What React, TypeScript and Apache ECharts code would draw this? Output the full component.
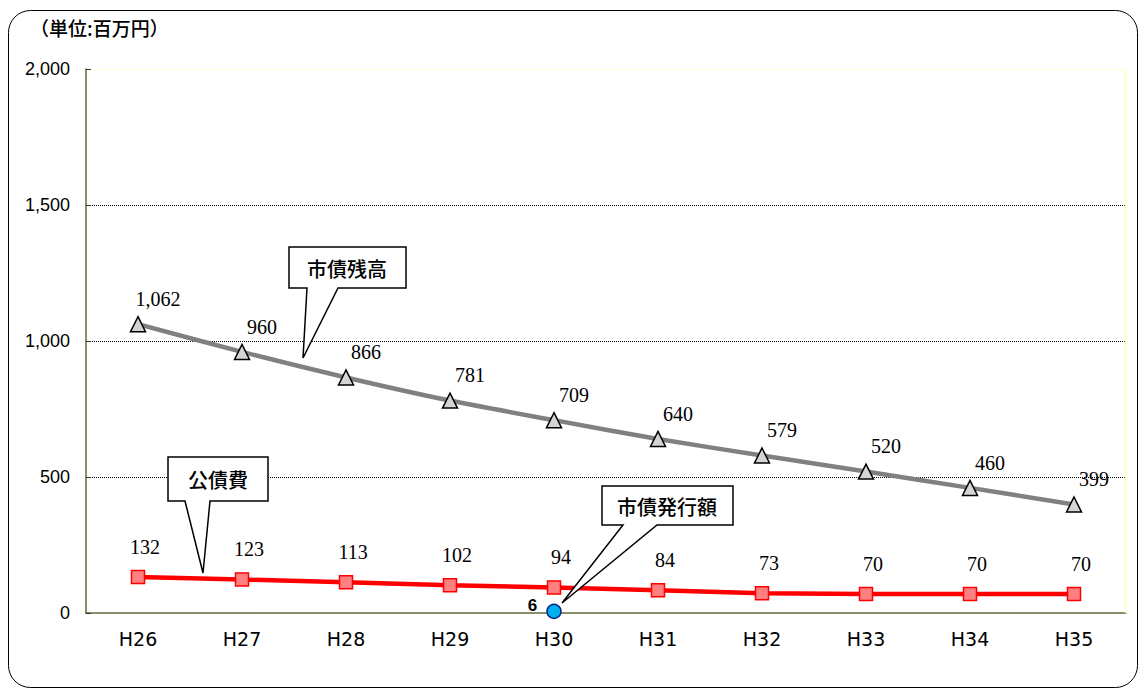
import React, { useEffect, useRef } from "react";
import * as echarts from "echarts";

const categories = ["H26", "H27", "H28", "H29", "H30", "H31", "H32", "H33", "H34", "H35"];
const balance = [1062, 960, 866, 781, 709, 640, 579, 520, 460, 399];
const debtService = [132, 123, 113, 102, 94, 84, 73, 70, 70, 70];
const issuance = [null, null, null, null, 6, null, null, null, null, null];
const yTicks = { min: 0, max: 2000, interval: 500 };

export default function App() {
  const ref = useRef<HTMLDivElement>(null);
  useEffect(() => {
    document.body.style.margin = "0";
    const chart = echarts.init(ref.current!, undefined, { renderer: "svg" });
    const serif = "'Liberation Serif', 'DejaVu Serif', serif";
    const sans = "'Liberation Sans', 'Noto Sans CJK JP', sans-serif";
    const cjk = "'Noto Sans CJK JP', sans-serif";
    const callout = (pts: number[][], tx: number, ty: number, text: string) => [
      {
        type: "polygon",
        z: 100,
        shape: { points: pts },
        style: { fill: "#fff", stroke: "#000", lineWidth: 1.5 },
      },
      {
        type: "text",
        z: 101,
        x: tx,
        y: ty,
        style: {
          text,
          fill: "#000",
          font: `500 20px ${cjk}`,
          align: "center",
          verticalAlign: "middle",
        },
      },
    ];
    chart.setOption({
      animation: false,
      backgroundColor: "#fff",
      grid: { left: 86, top: 69, right: 14, bottom: 78 },
      xAxis: {
        type: "category",
        data: categories,
        boundaryGap: true,
        axisLine: { lineStyle: { color: "#66663a", width: 1.5 } },
        axisTick: { inside: true, length: 5, lineStyle: { color: "#333" } },
        axisLabel: { color: "#000", fontSize: 19, fontFamily: "'DejaVu Sans', sans-serif", margin: 16 },
      },
      yAxis: {
        type: "value",
        min: yTicks.min,
        max: yTicks.max,
        interval: yTicks.interval,
        axisLine: { show: true, lineStyle: { color: "#66663a", width: 1.5 } },
        axisTick: { show: true, inside: true, length: 5, lineStyle: { color: "#333" } },
        axisLabel: {
          color: "#000",
          fontSize: 18,
          fontFamily: sans,
          margin: 16,
          formatter: (v: number) => v.toLocaleString("en-US"),
        },
        splitLine: {
          show: true,
          lineStyle: { color: ["transparent", "#000", "#000", "#000", "#ffffc0"], type: [1, 1], width: 1 },
        },
      },
      series: [
        {
          name: "市債残高",
          type: "line",
          data: balance,
          smooth: 0.3,
          lineStyle: { color: "#808080", width: 4.5 },
          symbol: "triangle",
          symbolSize: 15,
          itemStyle: { color: "#d4d4d4", borderColor: "#000", borderWidth: 1.5 },
          label: {
            show: true,
            position: "top",
            offset: [20, -2],
            color: "#000",
            fontSize: 20,
            fontFamily: serif,
            formatter: (p: any) => Number(p.value).toLocaleString("en-US"),
          },
          z: 3,
        },
        {
          name: "公債費",
          type: "line",
          data: debtService,
          lineStyle: { color: "#ff0000", width: 4.5 },
          symbol: "rect",
          symbolSize: 13,
          itemStyle: { color: "#ff8080", borderColor: "#ff0000", borderWidth: 1.5 },
          label: {
            show: true,
            position: "top",
            offset: [7, -8],
            color: "#000",
            fontSize: 20,
            fontFamily: serif,
          },
          z: 4,
        },
        {
          name: "市債発行額",
          type: "line",
          data: issuance,
          symbol: "circle",
          symbolSize: 14,
          showSymbol: true,
          lineStyle: { width: 0 },
          itemStyle: { color: "#00b0f0", borderColor: "#002080", borderWidth: 1.5 },
          label: {
            show: true,
            position: "left",
            distance: 9,
            offset: [0, -6],
            color: "#000",
            fontSize: 17,
            fontWeight: "bold",
            fontFamily: sans,
          },
          z: 5,
        },
      ],
      graphic: [
        {
          type: "rect",
          z: 0,
          silent: true,
          shape: { x: 8.5, y: 10.5, width: 1129, height: 677, r: 22 },
          style: { fill: "none", stroke: "#000", lineWidth: 1 },
        },
        {
          type: "rect",
          z: 1,
          silent: true,
          shape: { x: 1125.5, y: 69, width: 0, height: 544 },
          style: { fill: "none", stroke: "#ffffc0", lineWidth: 1.5 },
        },
        {
          type: "text",
          x: 30,
          y: 27,
          style: {
            text: "（単位:百万円）",
            fill: "#000",
            font: `500 19px ${cjk}`,
            verticalAlign: "middle",
          },
        },
        ...callout(
          [[289, 247], [406, 247], [406, 288], [338, 288], [303, 358], [307, 288], [289, 288]],
          347, 268, "市債残高"
        ),
        ...callout(
          [[168, 457], [268, 457], [268, 501], [210, 501], [203, 573], [185, 501], [168, 501]],
          218, 479, "公債費"
        ),
        ...callout(
          [[602, 486], [733, 486], [733, 525], [657, 525], [562, 603], [623, 525], [602, 525]],
          667, 506, "市債発行額"
        ),
      ],
    });
    return () => chart.dispose();
  }, []);
  return <div ref={ref} style={{ width: 1140, height: 691 }} />;
}
